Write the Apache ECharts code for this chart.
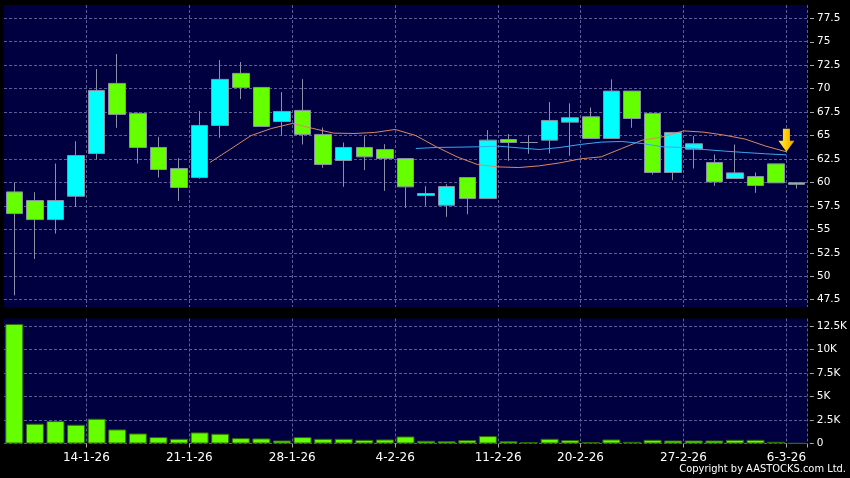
<!DOCTYPE html>
<html>
<head>
<meta charset="utf-8">
<script src="https://cdn.jsdelivr.net/npm/echarts@6/dist/echarts.min.js"></script>
<style>
html,body{margin:0;padding:0;background:#000;}
#chart{width:850px;height:478px;}
</style>
</head>
<body>
<div id="chart"></div>
<script>
// ---- data ----
const dates = ['8-1-26','9-1-26','12-1-26','13-1-26','14-1-26','15-1-26','16-1-26','19-1-26','20-1-26','21-1-26',
  '22-1-26','23-1-26','26-1-26','27-1-26','28-1-26','29-1-26','30-1-26','2-2-26','3-2-26','4-2-26',
  '5-2-26','6-2-26','9-2-26','10-2-26','11-2-26','12-2-26','13-2-26','16-2-26','20-2-26','23-2-26',
  '24-2-26','25-2-26','26-2-26','27-2-26','2-3-26','3-3-26','4-3-26','5-3-26','6-3-26'];
const tickDates = ['14-1-26','21-1-26','28-1-26','4-2-26','11-2-26','20-2-26','27-2-26','6-3-26'];

const openP  = [58.99,58.07,56.04,58.53,63.09,70.56,67.36,63.73,61.49,60.52,
  66.08,71.63,70.13,66.50,67.68,65.12,62.34,63.73,63.51,62.55,
  58.60,57.57,60.52,58.28,64.58,64.26,64.51,66.43,67.00,64.69,
  69.74,67.36,61.06,63.55,62.13,60.42,60.63,61.98,59.96];
const closeP = [56.68,56.04,58.07,62.87,69.81,67.25,63.73,61.38,59.46,66.08,
  70.99,70.13,65.97,67.57,65.12,61.91,63.73,62.73,62.55,59.53,
  58.82,59.56,58.28,64.51,64.26,64.26,66.61,66.90,64.69,69.74,
  66.82,61.06,65.33,64.12,60.06,61.02,59.67,59.96,59.80];
const lowP   = [47.96,51.84,54.55,57.39,62.45,65.83,62.02,60.52,58.03,60.40,
  64.76,68.89,65.97,64.97,64.05,61.56,59.53,61.31,59.10,57.29,
  57.50,56.33,56.61,58.28,62.30,63.05,63.09,62.84,64.69,64.69,
  65.83,60.84,60.24,61.49,59.64,60.42,58.89,59.96,59.35];
const highP  = [59.99,58.96,62.02,64.40,72.09,73.69,67.45,64.87,62.59,67.61,
  73.05,72.84,70.13,69.64,71.02,65.86,64.26,64.94,64.08,62.55,
  59.60,59.81,60.52,65.58,65.15,65.04,68.57,68.43,67.99,70.99,
  69.74,67.36,65.33,64.94,62.98,64.05,61.06,61.98,59.96];

const volume = [12750,2110,2390,2000,2640,1500,1070,680,500,1180,
  1040,570,540,320,680,500,500,390,430,750,
  290,250,360,790,250,140,500,360,140,430,
  180,390,320,320,320,390,390,180,30];

// moving averages (first value belongs to day index maStart)
const ma10Start = 9;
const ma10 = [62.13,63.55,65.00,65.76,66.29,65.76,65.26,65.22,65.33,65.65,
  65.00,63.80,62.73,61.91,61.66,61.59,61.77,62.09,62.52,62.73,
  63.62,64.51,64.87,65.50,65.36,65.04,64.62,63.87,63.27];
const ma20Start = 19;
const ma20 = [63.62,63.73,63.76,63.80,63.87,63.69,63.51,63.73,64.05,64.30,
  64.37,64.15,63.80,63.73,63.51,63.34,63.19,63.05,62.94];

const priceTickLabels = ['47.5','50','52.5','55','57.5','60','62.5','65','67.5','70','72.5','75','77.5'];
const volTickLabels = ['0','2.5K','5K','7.5K','10K','12.5K'];

// ---- chart ----
const chart = echarts.init(document.getElementById('chart'));
const tickIdx = new Set(tickDates.map(d => dates.indexOf(d)));
const gridColor = '#5c5c96';
const plotBg = '#000040';
const L = 4, W = 803;
const band = W / dates.length;
const font = 'DejaVu Sans';

const candleData = dates.map((d, i) => [openP[i], closeP[i], lowP[i], highP[i]]);
// MA value for day i is drawn at the right boundary of that day's slot
const ma10Data = ma10.map((v, i) => [ma10Start + i + 1, v]);
const ma20Data = ma20.map((v, i) => [ma20Start + i + 1, v]);
const lastMa = ma10Data[ma10Data.length - 1];

const splitLineX = {show: true, interval: (i) => tickIdx.has(i), lineStyle: {color: gridColor, type: [3, 2], width: 1}};
const splitLineY = {show: true, lineStyle: {color: gridColor, type: [3, 2], width: 1}};

const option = {
  animation: false,
  backgroundColor: '#000000',
  grid: [
    {left: L, width: W, top: 5, height: 302, show: true, backgroundColor: plotBg, borderWidth: 0},
    {left: L, width: W, top: 18.3, height: 281.4, show: false},
    {left: L, width: W, top: 318.5, height: 125, show: true, backgroundColor: plotBg, borderWidth: 0},
    {left: L, width: W, top: 326.3, height: 117.2, show: false}
  ],
  xAxis: [
    {gridIndex: 0, type: 'category', data: dates, boundaryGap: true,
     axisLine: {show: false}, axisTick: {show: false}, axisLabel: {show: false}, splitLine: splitLineX},
    {gridIndex: 1, type: 'category', data: dates, show: false},
    {gridIndex: 2, type: 'category', data: dates, boundaryGap: true, offset: 3,
     axisLine: {show: false},
     axisTick: {show: true, interval: (i) => tickIdx.has(i), length: 4, lineStyle: {color: '#aaaaaa'}},
     axisLabel: {show: true, interval: (i) => tickIdx.has(i), color: '#ffffff', fontSize: 12, fontFamily: font,
       margin: 5, padding: [0, band, 0, 0]},
     splitLine: splitLineX},
    {gridIndex: 3, type: 'category', data: dates, show: false},
    {gridIndex: 0, type: 'value', min: 0, max: dates.length, show: false}
  ],
  yAxis: [
    {gridIndex: 0, type: 'value', min: 46.72, max: 78.92, show: false},
    {gridIndex: 1, type: 'value', position: 'right', min: 47.5, max: 77.5, interval: 2.5, offset: 3,
     axisLine: {show: false},
     axisTick: {show: true, length: 4, lineStyle: {color: '#aaaaaa'}},
     axisLabel: {color: '#ffffff', fontSize: 10.5, fontFamily: font, margin: 7,
       formatter: (v) => priceTickLabels[Math.round((v - 47.5) / 2.5)]},
     splitLine: splitLineY},
    {gridIndex: 2, type: 'value', min: 0, max: 13332, show: false},
    {gridIndex: 3, type: 'value', position: 'right', min: 0, max: 12500, interval: 2500, offset: 3,
     axisLine: {show: false},
     axisTick: {show: true, length: 4, lineStyle: {color: '#aaaaaa'}},
     axisLabel: {color: '#ffffff', fontSize: 10.5, fontFamily: font, margin: 7,
       formatter: (v) => volTickLabels[Math.round(v / 2500)]},
     splitLine: splitLineY}
  ],
  series: [
    {type: 'candlestick', xAxisIndex: 0, yAxisIndex: 0, data: candleData, barWidth: 17, z: 2,
     itemStyle: {color: '#00ffff', color0: '#66ff00', borderColor: '#8a90a6', borderColor0: '#8a90a6',
       borderColorDoji: '#8a90a6', borderWidth: 1}},
    {type: 'line', xAxisIndex: 4, yAxisIndex: 0, data: ma10Data, symbol: 'none', z: 3,
     lineStyle: {color: '#d98a62', width: 1},
     markPoint: {
       symbol: 'path://M4.5,0 L11.5,0 L11.5,12 L16,12 L8,23 L0,12 L4.5,12 Z',
       symbolSize: [16, 23], symbolOffset: [0, '-50%'], silent: true,
       label: {show: false},
       itemStyle: {color: new echarts.graphic.LinearGradient(0, 0, 1, 0, [
         {offset: 0, color: '#ffe860'}, {offset: 0.5, color: '#ffd000'}, {offset: 1, color: '#e89a00'}])},
       data: [{coord: lastMa}]
     }},
    {type: 'line', xAxisIndex: 4, yAxisIndex: 0, data: ma20Data, symbol: 'none', z: 3,
     lineStyle: {color: '#3aa8f0', width: 1}},
    {type: 'bar', xAxisIndex: 2, yAxisIndex: 2, data: volume, barWidth: 18,
     itemStyle: {color: '#66ff00', borderColor: '#2f6a00', borderWidth: 1}}
  ],
  graphic: [
    {type: 'text', right: 4, top: 464, z: 10,
     style: {text: 'Copyright by AASTOCKS.com Ltd.', fill: '#ffffff', font: '11px "DejaVu Sans Condensed", "DejaVu Sans"'}}
  ]
};
chart.setOption(option);
</script>
</body>
</html>
